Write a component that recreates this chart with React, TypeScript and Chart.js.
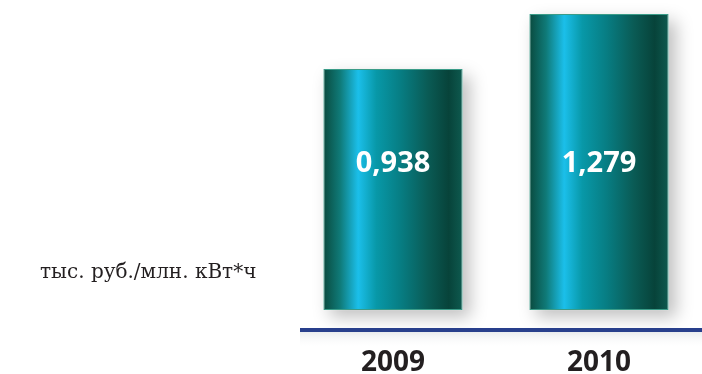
import React, { useEffect, useRef } from "react";
import { Chart, registerables } from "chart.js";

Chart.register(...registerables);

// ---- data ----
const categories = ["2009", "2010"];
const values = [0.938, 1.279];
const valueLabels = ["0,938", "1,279"];
const unitLabel = "тыс. руб./млн. кВт*ч";

// ---- scale settings ----
const Y_MIN = -0.67;
const Y_MAX = 1.279;
const BAR_BASE = -0.553;
const BAR_PCT = 0.676;

const gradientStops: [number, string][] = [
  [0, "#0A4A3E"],
  [0.12, "#0F7A78"],
  [0.25, "#1BBFEA"],
  [0.38, "#0898A8"],
  [0.55, "#077E84"],
  [0.75, "#0A5B55"],
  [0.9, "#07433A"],
  [1, "#0E5A4F"],
];

const decorPlugin = {
  id: "decor",
  beforeDatasetsDraw(chart: any) {
    const { ctx, chartArea } = chart;
    // shadow under the axis line
    const lineY = chartArea.bottom;
    const g = ctx.createLinearGradient(0, lineY, 0, lineY + 20);
    g.addColorStop(0, "rgba(215,219,223,0.7)");
    g.addColorStop(1, "rgba(255,255,255,0)");
    ctx.save();
    ctx.fillStyle = g;
    ctx.fillRect(chartArea.left + 10, lineY, chartArea.right - chartArea.left - 10, 20);
    ctx.restore();
    // bar drop shadows
    const meta = chart.getDatasetMeta(0);
    ctx.save();
    ctx.shadowColor = "rgba(0,0,0,0.25)";
    ctx.shadowBlur = 16;
    ctx.shadowOffsetX = 7;
    ctx.shadowOffsetY = 7;
    ctx.fillStyle = "#ffffff";
    meta.data.forEach((el: any) => {
      const p = el.getProps(["x", "y", "base", "width"], true);
      ctx.fillRect(p.x - p.width / 2, p.y, p.width, p.base - p.y);
    });
    ctx.restore();
  },
  afterDatasetsDraw(chart: any) {
    const { ctx, chartArea } = chart;
    const meta = chart.getDatasetMeta(0);
    ctx.save();
    ctx.fillStyle = "#FFFFFF";
    ctx.font = "bold 29px 'Open Sans', 'DejaVu Sans', sans-serif";
    ctx.textAlign = "center";
    ctx.textBaseline = "middle";
    meta.data.forEach((el: any, i: number) => {
      const p = el.getProps(["x"], true);
      ctx.fillText(valueLabels[i], p.x, chartArea.top + 150);
    });
    ctx.restore();

    // axis line
    ctx.save();
    ctx.strokeStyle = "#283F8C";
    ctx.lineWidth = 4;
    ctx.beginPath();
    ctx.moveTo(chartArea.left + 10, chartArea.bottom + 1);
    ctx.lineTo(chart.width, chartArea.bottom + 1);
    ctx.stroke();
    ctx.restore();

    // unit label
    ctx.save();
    ctx.fillStyle = "#231F20";
    ctx.font = "20px 'DejaVu Serif', serif";
    ctx.textAlign = "left";
    ctx.textBaseline = "middle";
    ctx.fillText(unitLabel, 40, 273);
    ctx.restore();
  },
};

export default function App() {
  const ref = useRef<HTMLCanvasElement | null>(null);

  useEffect(() => {
    if (!ref.current) return;
    const chart = new Chart(ref.current, {
      type: "bar",
      data: {
        labels: categories,
        datasets: [
          {
            data: values,
            base: BAR_BASE,
            barPercentage: BAR_PCT,
            categoryPercentage: 1,
            borderWidth: 1,
            borderColor: "#3A9C88",
            borderSkipped: false,
            backgroundColor: (c: any) => {
              const chart = c.chart;
              const area = chart.chartArea;
              if (!area || c.dataIndex === undefined) return "#0A7D80";
              const cx = chart.scales.x.getPixelForValue(c.dataIndex);
              const w = (area.width / categories.length) * BAR_PCT;
              const g = chart.ctx.createLinearGradient(cx - w / 2, 0, cx + w / 2, 0);
              gradientStops.forEach(([o, col]) => g.addColorStop(o, col));
              return g;
            },
          } as any,
        ],
      },
      options: {
        animation: false,
        responsive: true,
        maintainAspectRatio: false,
        layout: { padding: { left: 290, right: 0, top: 14, bottom: 0 } },
        plugins: { legend: { display: false }, tooltip: { enabled: false } },
        scales: {
          x: {
            grid: { display: false, drawTicks: false },
            border: { display: false },
            afterFit: (scale: any) => {
              scale.height = 45;
            },
            ticks: {
              color: "#231F20",
              padding: 20,
              font: { family: "'Open Sans', 'DejaVu Sans', sans-serif", weight: "bold", size: 28, lineHeight: 1 },
            },
          },
          y: {
            display: false,
            min: Y_MIN,
            max: Y_MAX,
          },
        },
      },
      plugins: [decorPlugin],
    });
    return () => chart.destroy();
  }, []);

  return (
    <div style={{ position: "absolute", left: 0, top: 0, width: 702, height: 374, background: "#fff" }}>
      <canvas ref={ref} />
    </div>
  );
}
